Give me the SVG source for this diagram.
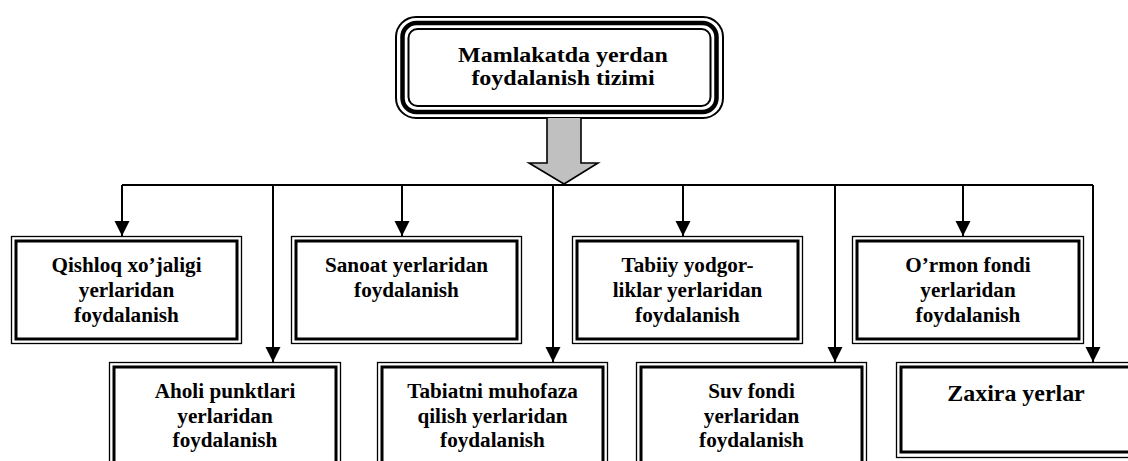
<svg xmlns="http://www.w3.org/2000/svg" width="1128" height="461" viewBox="0 0 1128 461">
  <style>
    .bg { fill: #ffffff; }
    .thin { fill: none; stroke: #000; stroke-width: 1.3; }
    .thick { fill: none; stroke: #000; stroke-width: 3; }
    .fill { fill: #ffffff; }
    text { font-family: 'Liberation Serif', 'DejaVu Serif', serif; font-weight: bold; fill: #000; text-anchor: middle; }
    .lbl { font-size: 20px; }
    .title { font-size: 20px; }
    .big { font-size: 23px; }
    .conn { fill: none; stroke: #000; stroke-width: 2; }
  </style>
  <defs>
    <marker id="arrow" markerUnits="userSpaceOnUse" markerWidth="16" markerHeight="16" refX="15" refY="7.5" orient="auto">
      <path d="M0,0 L15,7.5 L0,15 Z" fill="#000"/>
    </marker>
  </defs>

  <rect class="bg" x="0" y="0" width="1128" height="461"/>

  <!-- central title box with rounded triple frame -->
  <g id="node-root">
    <rect x="396" y="17" width="327" height="101" rx="20" fill="#fff" stroke="#000" stroke-width="2"/>
    <rect x="402.5" y="23" width="314" height="89" rx="14" fill="none" stroke="#000" stroke-width="4.5"/>
    <rect x="408.5" y="29" width="302" height="77" rx="9" fill="none" stroke="#000" stroke-width="2"/>
    <g transform="translate(563,0) scale(1.2,1)">
      <text class="title" x="0" y="62">Mamlakatda yerdan</text>
      <text class="title" x="0" y="85">foydalanish tizimi</text>
    </g>
  </g>

  <!-- connectors -->
  <g id="connectors">
    <path d="M547,118 L547,163 L529,163 L564,184 L598,163 L581,163 L581,118" fill="#c0c0c0" stroke="#000" stroke-width="1.6" stroke-linejoin="miter"/>
    <path class="conn" d="M122,185 L1093,185"/>
    <path class="conn" d="M122,185 L122,236" marker-end="url(#arrow)"/>
    <path class="conn" d="M402,185 L402,236" marker-end="url(#arrow)"/>
    <path class="conn" d="M683,185 L683,236" marker-end="url(#arrow)"/>
    <path class="conn" d="M963,185 L963,236" marker-end="url(#arrow)"/>
    <path class="conn" d="M273,185 L273,362" marker-end="url(#arrow)"/>
    <path class="conn" d="M553,185 L553,362" marker-end="url(#arrow)"/>
    <path class="conn" d="M835,185 L835,362" marker-end="url(#arrow)"/>
    <path class="conn" d="M1093,185 L1093,362" marker-end="url(#arrow)"/>
  </g>

  <!-- upper row -->
  <g id="node-qishloq">
    <rect class="fill thin" x="11.5" y="236.5" width="230" height="107"/>
    <rect class="thick" x="16" y="241" width="221" height="98"/>
    <g transform="translate(126.5,0) scale(1.06,1)">
      <text class="lbl" x="0" y="272">Qishloq xo’jaligi</text>
      <text class="lbl" x="0" y="297">yerlaridan</text>
      <text class="lbl" x="0" y="322">foydalanish</text>
    </g>
  </g>

  <g id="node-sanoat">
    <rect class="fill thin" x="291.5" y="236.5" width="230" height="107"/>
    <rect class="thick" x="296" y="241" width="221" height="98"/>
    <g transform="translate(406.5,0) scale(1.06,1)">
      <text class="lbl" x="0" y="272">Sanoat yerlaridan</text>
      <text class="lbl" x="0" y="297">foydalanish</text>
    </g>
  </g>

  <g id="node-tabiiy">
    <rect class="fill thin" x="572.5" y="236.5" width="230" height="107"/>
    <rect class="thick" x="577" y="241" width="221" height="98"/>
    <g transform="translate(687.5,0) scale(1.06,1)">
      <text class="lbl" x="0" y="272">Tabiiy yodgor-</text>
      <text class="lbl" x="0" y="297">liklar yerlaridan</text>
      <text class="lbl" x="0" y="322">foydalanish</text>
    </g>
  </g>

  <g id="node-ormon">
    <rect class="fill thin" x="852.5" y="236.5" width="231" height="107"/>
    <rect class="thick" x="857" y="241" width="222" height="98"/>
    <g transform="translate(968,0) scale(1.06,1)">
      <text class="lbl" x="0" y="272">O’rmon fondi</text>
      <text class="lbl" x="0" y="297">yerlaridan</text>
      <text class="lbl" x="0" y="322">foydalanish</text>
    </g>
  </g>

  <!-- lower row -->
  <g id="node-aholi">
    <rect class="fill thin" x="109.5" y="362.5" width="231" height="120"/>
    <rect class="thick" x="114" y="367" width="222" height="120"/>
    <g transform="translate(225,0) scale(1.06,1)">
      <text class="lbl" x="0" y="398">Aholi punktlari</text>
      <text class="lbl" x="0" y="423">yerlaridan</text>
      <text class="lbl" x="0" y="447">foydalanish</text>
    </g>
  </g>

  <g id="node-tabiatni">
    <rect class="fill thin" x="377.5" y="362.5" width="230" height="120"/>
    <rect class="thick" x="382" y="367" width="221" height="120"/>
    <g transform="translate(492.5,0) scale(1.06,1)">
      <text class="lbl" x="0" y="398">Tabiatni muhofaza</text>
      <text class="lbl" x="0" y="423">qilish yerlaridan</text>
      <text class="lbl" x="0" y="447">foydalanish</text>
    </g>
  </g>

  <g id="node-suv">
    <rect class="fill thin" x="636.5" y="362.5" width="230" height="120"/>
    <rect class="thick" x="641" y="367" width="221" height="120"/>
    <g transform="translate(751.5,0) scale(1.06,1)">
      <text class="lbl" x="0" y="398">Suv fondi</text>
      <text class="lbl" x="0" y="423">yerlaridan</text>
      <text class="lbl" x="0" y="447">foydalanish</text>
    </g>
  </g>

  <g id="node-zaxira">
    <rect class="fill thin" x="896.5" y="362.5" width="240" height="95"/>
    <rect class="thick" x="901" y="367" width="231" height="85"/>
    <g transform="translate(1016,0) scale(1.04,1)">
      <text class="big" x="0" y="401">Zaxira yerlar</text>
    </g>
  </g>
</svg>
